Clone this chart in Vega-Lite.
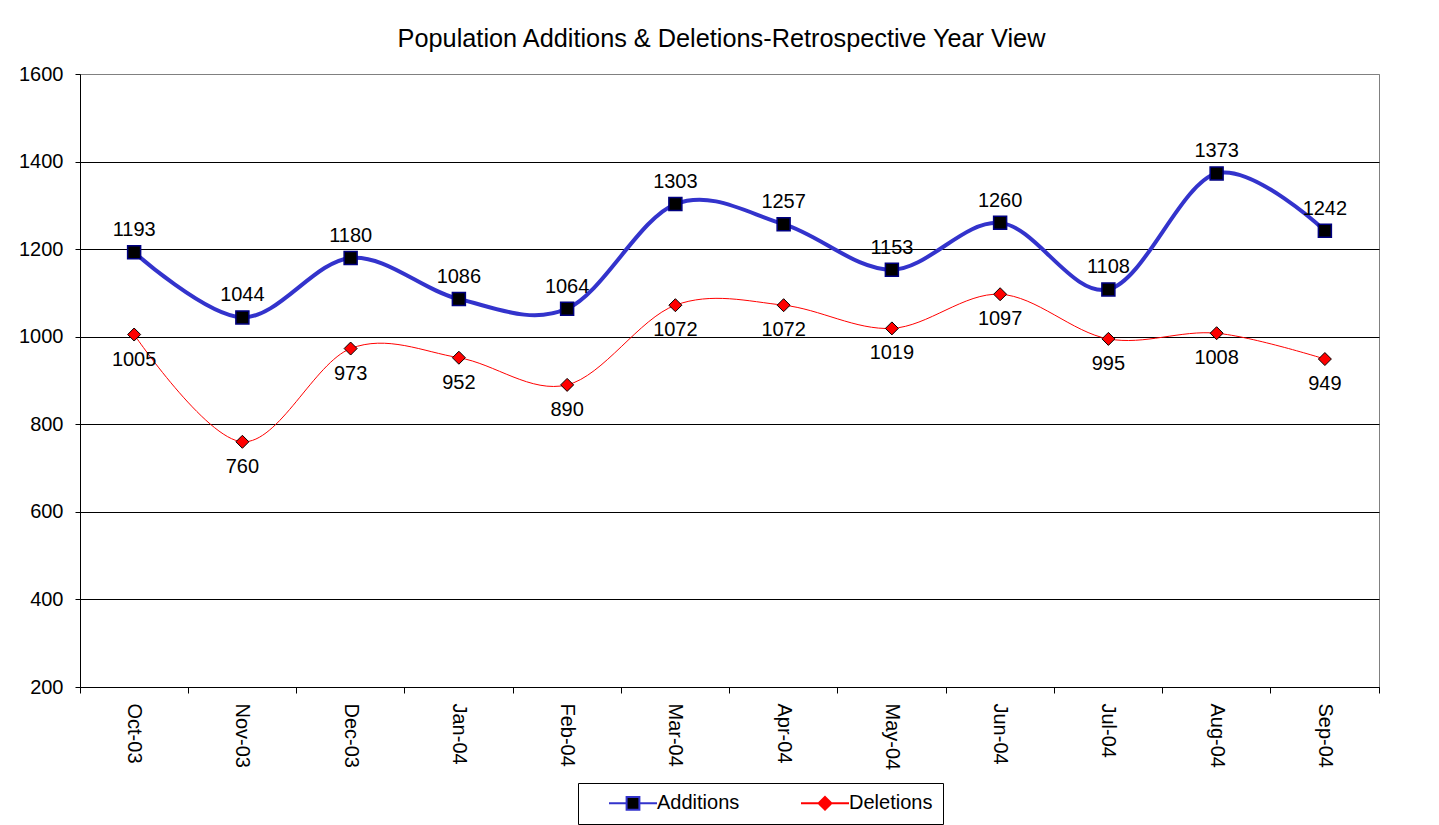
{
  "$schema": "https://vega.github.io/schema/vega-lite/v6.json",
  "autosize": {"type": "none"},
  "width": 1299,
  "height": 613,
  "padding": {"left": 80, "top": 74, "right": 60, "bottom": 138},
  "background": "white",
  "config": {
    "font": "Liberation Sans",
    "view": {"stroke": "#808080", "strokeWidth": 1},
    "axis": {"labelFont": "Liberation Sans", "labelFontSize": 20, "labelColor": "black", "domainColor": "black", "tickColor": "black", "titleFont": "Liberation Sans"},
    "legend": {"labelFont": "Liberation Sans", "labelFontSize": 20, "labelColor": "black"}
  },
  "title": {
    "text": "Population Additions & Deletions-Retrospective Year View",
    "font": "Liberation Sans",
    "fontSize": 25.3,
    "fontWeight": "normal",
    "color": "black",
    "anchor": "middle",
    "frame": "group",
    "baseline": "alphabetic",
    "offset": -8,
    "dx": -8
  },
  "data": {
    "values": [
      {"month": "Oct-03", "series": "Additions", "value": 1193},
      {"month": "Nov-03", "series": "Additions", "value": 1044},
      {"month": "Dec-03", "series": "Additions", "value": 1180},
      {"month": "Jan-04", "series": "Additions", "value": 1086},
      {"month": "Feb-04", "series": "Additions", "value": 1064},
      {"month": "Mar-04", "series": "Additions", "value": 1303},
      {"month": "Apr-04", "series": "Additions", "value": 1257},
      {"month": "May-04", "series": "Additions", "value": 1153},
      {"month": "Jun-04", "series": "Additions", "value": 1260},
      {"month": "Jul-04", "series": "Additions", "value": 1108},
      {"month": "Aug-04", "series": "Additions", "value": 1373},
      {"month": "Sep-04", "series": "Additions", "value": 1242},
      {"month": "Oct-03", "series": "Deletions", "value": 1005},
      {"month": "Nov-03", "series": "Deletions", "value": 760},
      {"month": "Dec-03", "series": "Deletions", "value": 973},
      {"month": "Jan-04", "series": "Deletions", "value": 952},
      {"month": "Feb-04", "series": "Deletions", "value": 890},
      {"month": "Mar-04", "series": "Deletions", "value": 1072},
      {"month": "Apr-04", "series": "Deletions", "value": 1072},
      {"month": "May-04", "series": "Deletions", "value": 1019},
      {"month": "Jun-04", "series": "Deletions", "value": 1097},
      {"month": "Jul-04", "series": "Deletions", "value": 995},
      {"month": "Aug-04", "series": "Deletions", "value": 1008},
      {"month": "Sep-04", "series": "Deletions", "value": 949}
    ]
  },
  "encoding": {
    "x": {
      "field": "month",
      "type": "ordinal",
      "sort": null,
      "bandPosition": 0.5,
      "scale": {"type": "band", "paddingInner": 0, "paddingOuter": 0},
      "axis": {"title": null, "labelAngle": 90, "bandPosition": 1, "tickExtra": true, "tickSize": 6, "labelPadding": 10, "grid": false}
    },
    "y": {
      "field": "value",
      "type": "quantitative",
      "scale": {"domain": [200, 1600], "zero": false, "nice": false},
      "axis": {
        "title": null,
        "format": "d",
        "values": [200, 400, 600, 800, 1000, 1200, 1400, 1600],
        "grid": true,
        "gridColor": {"condition": {"test": "datum.value === 1600", "value": "#808080"}, "value": "black"},
        "gridOpacity": 1,
        "tickSize": 5,
        "labelPadding": 12
      }
    }
  },
  "layer": [
    {
      "transform": [{"filter": "datum.series === 'Additions'"}],
      "mark": {"type": "line", "color": "#3333cc", "strokeWidth": 4, "interpolate": "cardinal"}
    },
    {
      "transform": [{"filter": "datum.series === 'Deletions'"}],
      "mark": {"type": "line", "color": "#ff0000", "strokeWidth": 1, "interpolate": "cardinal"}
    },
    {
      "transform": [{"filter": "datum.series === 'Additions'"}],
      "mark": {"type": "point", "shape": "square", "filled": true, "fill": "black", "stroke": "#000080", "strokeWidth": 1.5, "size": 169, "opacity": 1}
    },
    {
      "transform": [{"filter": "datum.series === 'Deletions'"}],
      "mark": {"type": "point", "shape": "diamond", "filled": true, "fill": "#ff0000", "stroke": "black", "strokeWidth": 1, "size": 169, "opacity": 1}
    },
    {
      "transform": [{"filter": "datum.series === 'Additions'"}],
      "mark": {"type": "text", "dy": -22, "fontSize": 20, "font": "Liberation Sans", "color": "black"},
      "encoding": {"text": {"field": "value", "type": "quantitative"}}
    },
    {
      "transform": [{"filter": "datum.series === 'Deletions'"}],
      "mark": {"type": "text", "dy": 25, "fontSize": 20, "font": "Liberation Sans", "color": "black"},
      "encoding": {"text": {"field": "value", "type": "quantitative"}}
    },
    {
      "mark": {"type": "point", "filled": true, "clip": true, "size": 256, "opacity": 1},
      "encoding": {
        "y": {"datum": 0},
        "fill": {
          "field": "series", "type": "nominal",
          "scale": {"domain": ["Additions", "Deletions"], "range": ["black", "#ff0000"]},
          "legend": {"orient": "none", "legendX": 498, "legendY": 709, "direction": "horizontal", "columns": 2, "title": null, "strokeColor": "black", "padding": 10, "symbolSize": 256, "symbolOffset": 35, "labelOffset": 14, "columnPadding": 40, "symbolStrokeWidth": 2}
        },
        "stroke": {
          "field": "series", "type": "nominal",
          "scale": {"domain": ["Additions", "Deletions"], "range": ["#3333cc", "#ff0000"]},
          "legend": {"orient": "none", "legendX": 498, "legendY": 709, "direction": "horizontal", "columns": 2, "title": null, "strokeColor": "black", "padding": 10, "symbolSize": 256, "symbolOffset": 35, "labelOffset": 14, "columnPadding": 40, "symbolStrokeWidth": 2}
        },
        "shape": {
          "field": "series", "type": "nominal",
          "scale": {"domain": ["Additions", "Deletions"], "range": ["M-3,0L-0.8,0M0.8,0L3,0M-0.8,-0.8L0.8,-0.8L0.8,0.8L-0.8,0.8Z", "M-3,0L-0.8,0M0.8,0L3,0M0,-0.8L0.8,0L0,0.8L-0.8,0Z"]},
          "legend": {"orient": "none", "legendX": 498, "legendY": 709, "direction": "horizontal", "columns": 2, "title": null, "strokeColor": "black", "padding": 10, "symbolSize": 256, "symbolOffset": 35, "labelOffset": 14, "columnPadding": 40, "symbolStrokeWidth": 2}
        }
      }
    }
  ]
}
